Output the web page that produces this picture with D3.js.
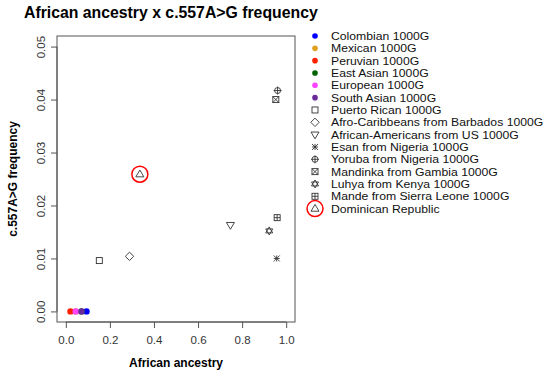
<!DOCTYPE html>
<html>
<head>
<meta charset="utf-8">
<title>African ancestry x c.557A>G frequency</title>
<script src="https://d3js.org/d3.v7.min.js"></script>
<style>
  body { margin: 0; background: #fff; }
  text { font-family: "Liberation Sans", Arial, sans-serif; }
</style>
</head>
<body>
<div id="my_dataviz"></div>
<script>
// populations, in legend order
const groups = ["Colombian 1000G", "Mexican 1000G", "Peruvian 1000G", "East Asian 1000G",
  "European 1000G", "South Asian 1000G", "Puerto Rican 1000G", "Afro-Caribbeans from Barbados 1000G",
  "African-Americans from US 1000G", "Esan from Nigeria 1000G", "Yoruba from Nigeria 1000G",
  "Mandinka from Gambia 1000G", "Luhya from Kenya 1000G", "Mande from Sierra Leone 1000G",
  "Dominican Republic"];
const ancestry = [0.094, 0.045, 0.021, 0.071, 0.045, 0.071, 0.152, 0.289, 0.747, 0.957, 0.961, 0.953, 0.923, 0.959, 0.336];
const freq = [0, 0, 0, 0, 0, 0, 0.0096, 0.0104, 0.0163, 0.0100, 0.0417, 0.0400, 0.0152, 0.0177, 0.0259];
// R pch codes used for each group
const pch = [16, 16, 16, 16, 16, 16, 0, 5, 6, 8, 10, 7, 11, 12, 2];
const colors = ["#0000ff", "#e0a020", "#ff2000", "#006400", "#ff44ff", "#6a2a9a",
  "#333", "#333", "#333", "#333", "#333", "#333", "#333", "#333", "#333"];
const highlight = "Dominican Republic";
const xTicks = [0, 0.2, 0.4, 0.6, 0.8, 1.0];
const yTicks = [0, 0.01, 0.02, 0.03, 0.04, 0.05];

const W = 550, H = 375;
const margin = {top: 36, right: 255, bottom: 53, left: 57};
const width = W - margin.left - margin.right,
      height = H - margin.top - margin.bottom;

const svgRoot = d3.select("#my_dataviz").append("svg")
  .attr("width", W).attr("height", H);
const svg = svgRoot.append("g")
  .attr("transform", `translate(${margin.left},${margin.top})`);

// R style 4% axis extension
const x = d3.scaleLinear().domain([-0.04, 1.04]).range([0, width]);
const y = d3.scaleLinear().domain([-0.002, 0.052]).range([height, 0]);

svgRoot.append("text")
  .attr("x", 24).attr("y", 18)
  .style("font-size", "15.8px").style("font-weight", "bold")
  .text("African ancestry x c.557A>G frequency");

// box
svg.append("rect")
  .attr("width", width).attr("height", height)
  .attr("fill", "none").attr("stroke", "#555").attr("stroke-width", 1);

const xAxis = svg.append("g")
  .attr("transform", `translate(0,${height})`)
  .call(d3.axisBottom(x).tickValues(xTicks).tickFormat(d3.format(".1f")).tickSize(6).tickPadding(8));
const yAxis = svg.append("g")
  .call(d3.axisLeft(y).tickValues(yTicks).tickFormat(d3.format(".2f")).tickSize(6).tickPadding(4));
[xAxis, yAxis].forEach(a => {
  a.select(".domain").remove();
  a.selectAll("line").attr("stroke", "#555");
  a.selectAll("text").style("font-size", "11.5px").attr("fill", "#333")
    .style("font-family", "'Liberation Sans', Arial, sans-serif");
});
// x axis line between first and last tick, as in R
xAxis.append("line").attr("x1", x(0)).attr("x2", x(1)).attr("stroke", "#555");
yAxis.append("line").attr("y1", y(0)).attr("y2", y(0.05)).attr("stroke", "#555");
// rotate y tick labels
yAxis.selectAll(".tick text")
  .attr("x", null).attr("dy", null)
  .attr("text-anchor", "middle")
  .attr("transform", "translate(-16,0) rotate(-90)")
  .attr("dy", "0.35em");

svg.append("text")
  .attr("x", width / 2).attr("y", height + 45)
  .attr("text-anchor", "middle")
  .style("font-size", "12px").style("font-weight", "bold")
  .text("African ancestry");
svg.append("text")
  .attr("transform", `translate(${-40},${height / 2}) rotate(-90)`)
  .attr("text-anchor", "middle")
  .style("font-size", "12px").style("font-weight", "bold")
  .text("c.557A>G frequency");

// draw an R-like plotting symbol
function symbol(g, code, col) {
  const s = 3, st = col, sw = 0.9;
  const line = (x1, y1, x2, y2) => g.append("line").attr("x1", x1).attr("y1", y1)
    .attr("x2", x2).attr("y2", y2).attr("stroke", st).attr("stroke-width", sw);
  const sq = () => g.append("rect").attr("x", -s).attr("y", -s).attr("width", 2 * s).attr("height", 2 * s)
    .attr("fill", "none").attr("stroke", st).attr("stroke-width", sw);
  if (code === 16) {
    g.append("circle").attr("r", 3.2).attr("fill", col);
  } else if (code === 0) {
    sq();
  } else if (code === 5) {
    g.append("path").attr("d", `M0,${-4.2}L4.2,0L0,4.2L-4.2,0Z`)
      .attr("fill", "none").attr("stroke", st).attr("stroke-width", sw);
  } else if (code === 6) {
    g.append("path").attr("d", `M-4,-2.6L4,-2.6L0,4.2Z`)
      .attr("fill", "none").attr("stroke", st).attr("stroke-width", sw);
  } else if (code === 2) {
    g.append("path").attr("d", `M-4,2.6L4,2.6L0,-4.2Z`)
      .attr("fill", "none").attr("stroke", st).attr("stroke-width", sw);
  } else if (code === 8) {
    line(-s, 0, s, 0); line(0, -s, 0, s);
    line(-s, -s, s, s); line(-s, s, s, -s);
  } else if (code === 10) {
    g.append("circle").attr("r", s).attr("fill", "none").attr("stroke", st).attr("stroke-width", sw);
    line(-4, 0, 4, 0); line(0, -4, 0, 4);
  } else if (code === 7) {
    sq(); line(-s, -s, s, s); line(-s, s, s, -s);
  } else if (code === 12) {
    sq(); line(-s, 0, s, 0); line(0, -s, 0, s);
  } else if (code === 11) {
    g.append("path").attr("d", `M-3.5,-2L3.5,-2L0,4Z M-3.5,2L3.5,2L0,-4Z`)
      .attr("fill", "none").attr("stroke", st).attr("stroke-width", sw);
  }
}

const data = groups.map((d, i) => ({name: d, x: ancestry[i], y: freq[i], pch: pch[i], col: colors[i]}));

svg.selectAll("g.pt")
  .data(data)
  .join("g")
  .attr("class", "pt")
  .attr("transform", d => `translate(${x(d.x)},${y(d.y)})`)
  .each(function(d) { symbol(d3.select(this), d.pch, d.col); });

const hl = data.find(d => d.name === highlight);
svg.append("circle")
  .attr("cx", x(hl.x)).attr("cy", y(hl.y)).attr("r", 8)
  .attr("fill", "none").attr("stroke", "#ff0000").attr("stroke-width", 1.5);

// legend
const legend = svgRoot.append("g").attr("transform", "translate(315,36)");
const rows = legend.selectAll("g")
  .data(data)
  .join("g")
  .attr("transform", (d, i) => `translate(0,${i * 12.33})`);
rows.each(function(d) {
  const g = d3.select(this);
  if (d.pch === 16) g.append("circle").attr("r", 2.8).attr("fill", d.col);
  else symbol(g, d.pch, d.col);
});
// small font so rows don't collide, stretched to the wider look of the original
rows.append("text")
  .attr("x", 16).attr("dy", "0.36em")
  .style("font-size", "10.8px").attr("fill", "#111")
  .text(d => d.name)
  .each(function() {
    const w = this.getComputedTextLength();
    d3.select(this).attr("textLength", w * 1.13).attr("lengthAdjust", "spacingAndGlyphs");
  });
legend.append("circle")
  .attr("cx", 0).attr("cy", 14 * 12.33).attr("r", 8)
  .attr("fill", "none").attr("stroke", "#ff0000").attr("stroke-width", 1.5);
</script>
</body>
</html>
